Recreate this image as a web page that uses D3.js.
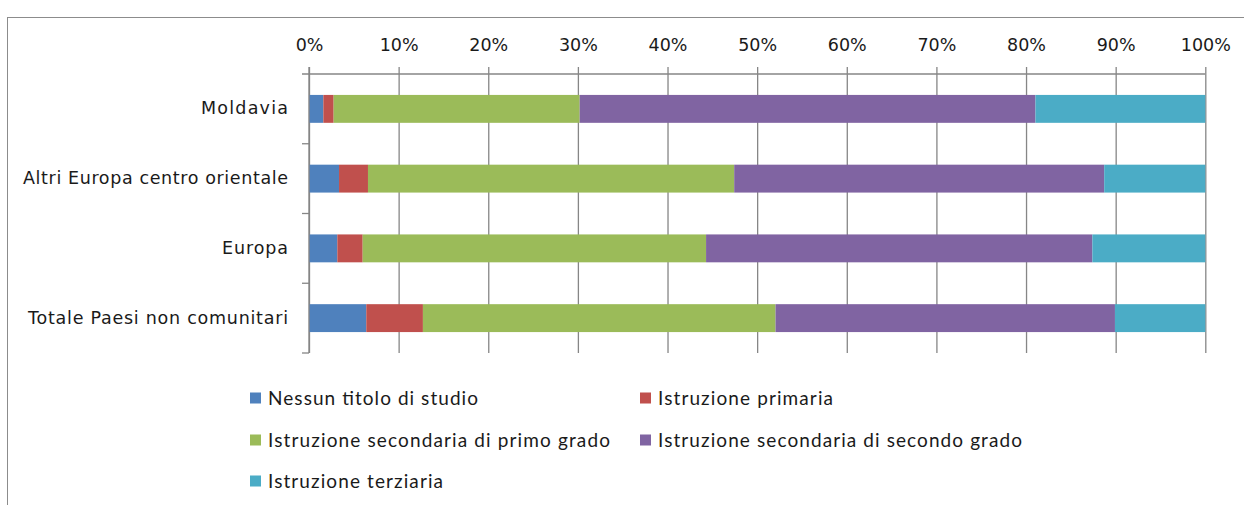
<!DOCTYPE html>
<html>
<head>
<meta charset="utf-8">
<script src="https://cdn.jsdelivr.net/npm/d3@7"></script>
<style>
  html, body { margin: 0; padding: 0; background: #fff; }
  svg { display: block; }
</style>
</head>
<body>
<svg id="chart" width="1244" height="505"></svg>
<script>
// ---- data ----
const categories = ["Moldavia", "Altri Europa centro orientale", "Europa", "Totale Paesi non comunitari"];
const seriesNames = ["Nessun titolo di studio", "Istruzione primaria", "Istruzione secondaria di primo grado",
                     "Istruzione secondaria di secondo grado", "Istruzione terziaria"];
const nessun      = [1.6, 3.35, 3.16, 6.39];
const primaria    = [1.15, 3.23, 2.83, 6.32];
const secPrimo    = [27.45, 40.86, 38.31, 39.34];
const secSecondo  = [50.85, 41.28, 43.10, 37.87];
const terziaria   = [18.95, 11.28, 12.60, 10.08];
const tickValues  = [0, 10, 20, 30, 40, 50, 60, 70, 80, 90, 100];
const tickLabels  = ["0%", "10%", "20%", "30%", "40%", "50%", "60%", "70%", "80%", "90%", "100%"];
const colors = ["#4F81BD", "#C0504D", "#9BBB59", "#8064A2", "#4BACC6"];

(function () {
const seriesValues = [nessun, primaria, secPrimo, secSecondo, terziaria];
const rows = categories.map((c, i) => {
  const r = { cat: c };
  seriesNames.forEach((s, j) => r[s] = seriesValues[j][i]);
  return r;
});
const stacked = d3.stack().keys(seriesNames).offset(d3.stackOffsetExpand)(rows);

const svg = d3.select("#chart");
const pLeft = 309, pRight = 1205.3, pTop = 74, pBottom = 353;

const x = d3.scaleLinear().domain([0, 1]).range([pLeft, pRight]);
const y = d3.scaleBand().domain(categories).range([pTop, pBottom]).paddingInner(0.6).paddingOuter(0.3);

const gridColor = "#868686";
const textColor = "#1a1a1a";
const catWidths = [87, 265, 66, 260];
const legendWidths = [210, 175, 342, 364, 175];

// chart border
svg.append("rect")
  .attr("x", 7.5).attr("y", 17.5).attr("width", 1400).attr("height", 700)
  .attr("fill", "none").attr("stroke", "#8c8c8c").attr("stroke-width", 1);

// gridlines
const grid = svg.append("g").attr("transform", `translate(0,${pTop})`)
  .call(d3.axisBottom(x).tickValues(tickValues.map(v => v / 100)).tickSize(pBottom - pTop).tickFormat(""));
grid.select(".domain").remove();
grid.selectAll("line").attr("stroke", gridColor).attr("stroke-width", 1.3);

// bars
svg.append("g").selectAll("g").data(stacked).join("g")
  .attr("fill", (d, i) => colors[i])
  .selectAll("rect").data(d => d).join("rect")
  .attr("x", d => x(d[0]))
  .attr("width", d => x(d[1]) - x(d[0]))
  .attr("y", d => y(d.data.cat))
  .attr("height", y.bandwidth());

// top axis
const xAxis = svg.append("g").attr("transform", `translate(0,${pTop})`)
  .call(d3.axisTop(x).tickValues(tickValues.map(v => v / 100)).tickSize(7).tickPadding(16)
        .tickFormat((d, i) => tickLabels[i]));
xAxis.select(".domain").remove();
xAxis.selectAll("line").attr("stroke", gridColor).attr("stroke-width", 1.3);
xAxis.selectAll("text")
  .attr("font-family", "DejaVu Sans, Verdana, sans-serif").attr("font-size", 17.5)
  .attr("fill", textColor).attr("dy", "0");
svg.append("line")
  .attr("x1", pLeft - 7).attr("x2", pRight).attr("y1", pTop).attr("y2", pTop)
  .attr("stroke", gridColor).attr("stroke-width", 1.3);

// left axis
const yAxis = svg.append("g").attr("transform", `translate(${pLeft},0)`)
  .call(d3.axisLeft(y).tickSize(0).tickPadding(21));
yAxis.select(".domain").remove();
yAxis.selectAll("text")
  .attr("font-family", "DejaVu Sans, Verdana, sans-serif").attr("font-size", 17.5)
  .attr("fill", textColor)
  .attr("textLength", (d, i) => catWidths[i])
  .attr("lengthAdjust", "spacing");
svg.append("line")
  .attr("x1", pLeft).attr("x2", pLeft).attr("y1", pTop - 7).attr("y2", pBottom)
  .attr("stroke", gridColor).attr("stroke-width", 1.3);
// category boundary ticks
const bounds = categories.map(c => y(c) - y.step() * y.paddingInner() / 2);
bounds.push(pBottom);
svg.append("g").selectAll("line").data(bounds.slice(1)).join("line")
  .attr("x1", pLeft - 7).attr("x2", pLeft).attr("y1", d => d).attr("y2", d => d)
  .attr("stroke", gridColor).attr("stroke-width", 1.3);

// legend
const legendPos = [[250, 398], [640, 398], [250, 440], [640, 440], [250, 481]];
const lg = svg.append("g").selectAll("g").data(seriesNames).join("g")
  .attr("transform", (d, i) => `translate(${legendPos[i][0]},${legendPos[i][1]})`);
lg.append("rect").attr("x", 0).attr("y", -5.5).attr("width", 11).attr("height", 11)
  .attr("fill", (d, i) => colors[i]);
lg.append("text").attr("x", 18).attr("y", 0).attr("dy", "0.36em")
  .attr("font-family", "Lato, Open Sans, sans-serif").attr("font-size", 19)
  .attr("fill", textColor)
  .attr("textLength", (d, i) => legendWidths[i])
  .attr("lengthAdjust", "spacing")
  .text(d => d);
})();
</script>
</body>
</html>
